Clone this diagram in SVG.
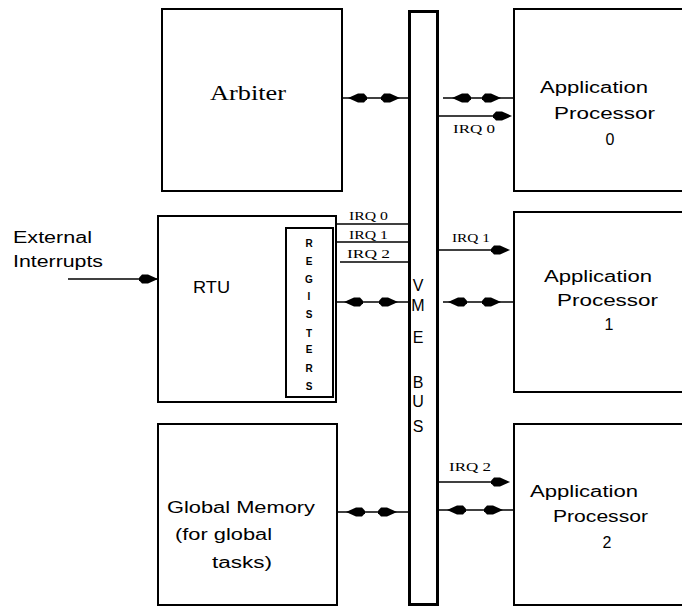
<svg xmlns="http://www.w3.org/2000/svg" xmlns:xlink="http://www.w3.org/1999/xlink" width="682" height="607" viewBox="0 0 682 607">
  <style>
    .box { fill: #fff; stroke: #000; stroke-width: 2; }
    .bus { fill: #fff; stroke: #000; stroke-width: 3; }
    .wire { stroke: #000; stroke-width: 1.6; fill: none; }
    .sans { font-family: "Liberation Sans", Arial, sans-serif; fill: #000; }
    .serif { font-family: "Liberation Serif", "Times New Roman", serif; fill: #000; }
    .lbl { font-size: 16px; }
    .irq { font-size: 12px; }
    .reg { font-size: 10px; text-anchor: middle; font-weight: bold; }
    .busl { font-size: 16px; text-anchor: middle; }
  </style>
  <defs>
    <!-- filled arrowhead, tip at origin, pointing right -->
    <path id="hr" d="M0,0 L-10,-4.5 L-16,-4.5 L-19,-1.2 L-19,1.2 L-16,4.5 L-10,4.5 Z" fill="#000"/>
    <!-- same arrowhead pointing left -->
    <path id="hl" d="M0,0 L10,-4.5 L16,-4.5 L19,-1.2 L19,1.2 L16,4.5 L10,4.5 Z" fill="#000"/>
  </defs>

  <!-- VME bus -->
  <g id="vme-bus">
    <rect class="bus" x="409.5" y="11.5" width="28" height="593"/>
    <text class="sans busl" x="418" y="291">V</text>
    <text class="sans busl" x="418" y="311">M</text>
    <text class="sans busl" x="418" y="343">E</text>
    <text class="sans busl" x="418" y="388">B</text>
    <text class="sans busl" x="418" y="407">U</text>
    <text class="sans busl" x="418" y="432">S</text>
  </g>

  <g id="arbiter">
    <rect class="box" x="162" y="9" width="180" height="182"/>
    <text class="serif" x="210" y="100" font-size="22" textLength="76" lengthAdjust="spacingAndGlyphs">Arbiter</text>
  </g>

  <g id="rtu">
    <rect class="box" x="158" y="216" width="178" height="186"/>
    <text class="sans lbl" x="193" y="293" textLength="37" lengthAdjust="spacingAndGlyphs">RTU</text>
  </g>

  <g id="registers">
    <rect class="box" x="286" y="228" width="47" height="169"/>
    <text class="sans reg" x="309" y="247">R</text>
    <text class="sans reg" x="309" y="265">E</text>
    <text class="sans reg" x="309" y="283">G</text>
    <text class="sans reg" x="309" y="300">I</text>
    <text class="sans reg" x="309" y="318">S</text>
    <text class="sans reg" x="309" y="337">T</text>
    <text class="sans reg" x="309" y="353">E</text>
    <text class="sans reg" x="309" y="372">R</text>
    <text class="sans reg" x="309" y="390">S</text>
  </g>

  <g id="global-memory">
    <rect class="box" x="158" y="424" width="179" height="181"/>
    <text class="sans lbl" x="167" y="513" textLength="148" lengthAdjust="spacingAndGlyphs">Global Memory</text>
    <text class="sans lbl" x="175" y="540" textLength="97" lengthAdjust="spacingAndGlyphs">(for global</text>
    <text class="sans lbl" x="212" y="568" textLength="60" lengthAdjust="spacingAndGlyphs">tasks)</text>
  </g>

  <g id="app-processor-0">
    <rect class="box" x="514" y="9" width="200" height="182"/>
    <text class="sans lbl" x="540" y="93" textLength="108" lengthAdjust="spacingAndGlyphs">Application</text>
    <text class="sans lbl" x="554" y="119" textLength="101" lengthAdjust="spacingAndGlyphs">Processor</text>
    <text class="sans lbl" x="610" y="145" text-anchor="middle">0</text>
  </g>

  <g id="app-processor-1">
    <rect class="box" x="514" y="212" width="200" height="180"/>
    <text class="sans lbl" x="544" y="282" textLength="108" lengthAdjust="spacingAndGlyphs">Application</text>
    <text class="sans lbl" x="557" y="306" textLength="101" lengthAdjust="spacingAndGlyphs">Processor</text>
    <text class="sans lbl" x="609" y="330" text-anchor="middle">1</text>
  </g>

  <g id="app-processor-2">
    <rect class="box" x="514" y="424" width="200" height="181"/>
    <text class="sans lbl" x="530" y="497" textLength="108" lengthAdjust="spacingAndGlyphs">Application</text>
    <text class="sans lbl" x="553" y="522" textLength="95" lengthAdjust="spacingAndGlyphs">Processor</text>
    <text class="sans lbl" x="607" y="548" text-anchor="middle">2</text>
  </g>

  <g id="external-interrupts">
    <text class="sans lbl" x="13" y="243" font-size="15" textLength="79" lengthAdjust="spacingAndGlyphs">External</text>
    <text class="sans lbl" x="13" y="267" font-size="15" textLength="90" lengthAdjust="spacingAndGlyphs">Interrupts</text>
  </g>

  <g id="connectors">
    <!-- external interrupts into the RTU -->
    <line class="wire" x1="68" y1="279" x2="158" y2="279"/>
    <use xlink:href="#hr" x="158" y="279"/>

    <!-- left side bus links -->
    <line class="wire" x1="342" y1="98" x2="408" y2="98"/>
    <use xlink:href="#hl" x="348" y="98"/>
    <use xlink:href="#hr" x="400" y="98"/>

    <line class="wire" x1="336" y1="302" x2="408" y2="302"/>
    <use xlink:href="#hl" x="344" y="302"/>
    <use xlink:href="#hr" x="398" y="302"/>

    <line class="wire" x1="337" y1="512" x2="408" y2="512"/>
    <use xlink:href="#hl" x="346" y="512"/>
    <use xlink:href="#hr" x="397" y="512"/>

    <!-- RTU interrupt request lines onto the bus -->
    <line class="wire" x1="336" y1="224" x2="408" y2="224"/>
    <line class="wire" x1="336" y1="242" x2="408" y2="242"/>
    <line class="wire" x1="340" y1="262" x2="408" y2="262"/>
    <text class="serif irq" x="349" y="220" textLength="39" lengthAdjust="spacingAndGlyphs">IRQ 0</text>
    <text class="serif irq" x="349" y="239" textLength="39" lengthAdjust="spacingAndGlyphs">IRQ 1</text>
    <text class="serif irq" x="347" y="258" textLength="43" lengthAdjust="spacingAndGlyphs">IRQ 2</text>

    <!-- right side bus links -->
    <line class="wire" x1="443" y1="98" x2="514" y2="98"/>
    <use xlink:href="#hl" x="452" y="98"/>
    <use xlink:href="#hr" x="501" y="98"/>

    <line class="wire" x1="443" y1="302" x2="514" y2="302"/>
    <use xlink:href="#hl" x="448" y="302"/>
    <use xlink:href="#hr" x="501" y="302"/>

    <line class="wire" x1="437" y1="510" x2="514" y2="510"/>
    <use xlink:href="#hl" x="447" y="510"/>
    <use xlink:href="#hr" x="503" y="510"/>

    <!-- interrupt requests to the processors -->
    <line class="wire" x1="437" y1="116" x2="510" y2="116"/>
    <use xlink:href="#hr" x="512" y="116"/>
    <text class="serif irq" x="453" y="133" textLength="42" lengthAdjust="spacingAndGlyphs">IRQ 0</text>

    <line class="wire" x1="437" y1="250" x2="508" y2="250"/>
    <use xlink:href="#hr" x="510" y="250"/>
    <text class="serif irq" x="452" y="242" textLength="38" lengthAdjust="spacingAndGlyphs">IRQ 1</text>

    <line class="wire" x1="437" y1="482" x2="508" y2="482"/>
    <use xlink:href="#hr" x="510" y="482"/>
    <text class="serif irq" x="449" y="471" textLength="42" lengthAdjust="spacingAndGlyphs">IRQ 2</text>
  </g>
</svg>
